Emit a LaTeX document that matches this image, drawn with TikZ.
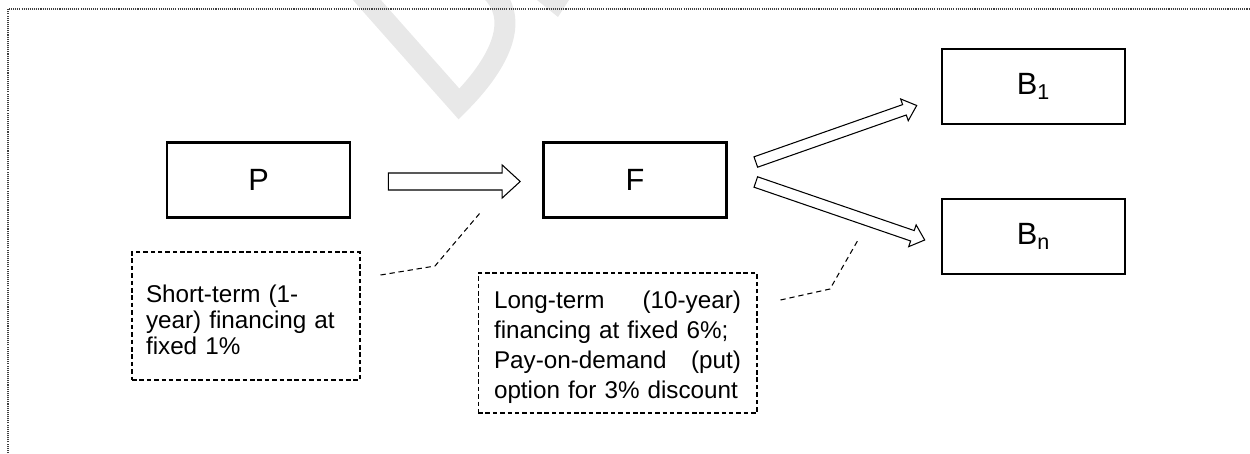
\documentclass[tikz,border=0pt]{standalone}
\usepackage{fontspec}
\setmainfont{Liberation Sans}
\usetikzlibrary{calc}

% outlined block arrow: tail, tip, shaft half width, head half width, head length
\newcommand{\fatarrow}[5]{%
  \coordinate (fa-s) at ($(#2)!#5!(#1)$);
  \draw[fatline] ($(#1)!#3!90:(#2)$) -- ($(fa-s)!#3!90:(#2)$) -- ($(fa-s)!#4!90:(#2)$) -- (#2)
    -- ($(fa-s)!#4!-90:(#2)$) -- ($(fa-s)!#3!-90:(#2)$) -- ($(#1)!#3!-90:(#2)$) -- cycle;}

\tikzset{
  block/.style={draw, line width=1.5pt, minimum width=3.66cm, minimum height=1.5cm,
    inner sep=0pt, font=\fontsize{17.5}{20}\selectfont},
  note/.style={draw, dash pattern=on 2.6pt off 1.6pt, line width=0.6pt, align=left,
    inner ysep=0pt},
  fatline/.style={draw, fill=white, line width=0.6pt, line join=miter},
  leader/.style={dash pattern=on 3pt off 2.2pt, line width=0.6pt},
  border/.style={black!75, line width=0.6pt, dash pattern=on 0.6pt off 0.6pt},
  watermark/.style={black!9, line width=0.42cm, line join=miter}
}

\begin{document}
\begin{tikzpicture}[x=0.02cm, y=-0.02cm]
\useasboundingbox (0,0) rectangle (1250,453);
\draw[watermark] (358,-10) -- (459,104) .. controls (495,68) and (525,20) .. (488,-12);
\fill[black!9] (537,0) -- (569,0) -- (558,17) -- cycle;
\draw[border] (8,453) -- (8,9) -- (1250,9);

% boxes
\node[block] (P) at (258.5,180) {P};
\node[block] (F) at (635,180) {F};
\node[block] (B1) at (1033.5,86.5) {B\textsubscript{1}};
\node[block] (Bn) at (1033.5,236.5) {B\textsubscript{n}};

% block arrows
\coordinate (pf-a) at ($(P.east)+(37,1.5)$);
\coordinate (pf-b) at ($(F.west)+(-22,1.5)$);
\coordinate (f1-a) at ($(F.east)+(28,-18)$);
\coordinate (f1-b) at ($(B1.west)+(-24,19)$);
\coordinate (fn-a) at ($(F.east)+(28,2)$);
\coordinate (fn-b) at ($(Bn.west)+(-16,3.5)$);
\fatarrow{pf-a}{pf-b}{0.17cm}{0.33cm}{0.36cm}
\fatarrow{f1-a}{f1-b}{0.11cm}{0.23cm}{0.26cm}
\fatarrow{fn-a}{fn-b}{0.11cm}{0.23cm}{0.26cm}

% notes
\node[note, text width=4.0cm, inner xsep=0.28cm, minimum height=2.56cm,
  font=\fontsize{13.8}{15}\selectfont] (n1) at (246,316)
  {\rule{0pt}{14.5pt}Short-term (1-\\year) financing at\\fixed 1\%};
\node[note, text width=4.94cm, inner xsep=0.32cm, minimum height=2.8cm,
  font=\fontsize{13.8}{17}\selectfont] (n2) at (617.5,343)
  {\rule{0pt}{15pt}Long-term \hfill (10-year)\\financing at fixed 6\%;\\Pay-on-demand \hfill (put)\\option for 3\% discount};

% leaders
\coordinate (l1a) at ($(n1.east)+(20,-41)$);
\coordinate (l1b) at (435,266);
\coordinate (l1c) at (480,213);
\draw[leader] (l1a) -- (l1b) -- (l1c);
\coordinate (l2a) at ($(n2.east)+(23,-43)$);
\coordinate (l2b) at (830,289);
\coordinate (l2c) at (858,240);
\draw[leader] (l2a) -- (l2b) -- (l2c);
\end{tikzpicture}
\end{document}
